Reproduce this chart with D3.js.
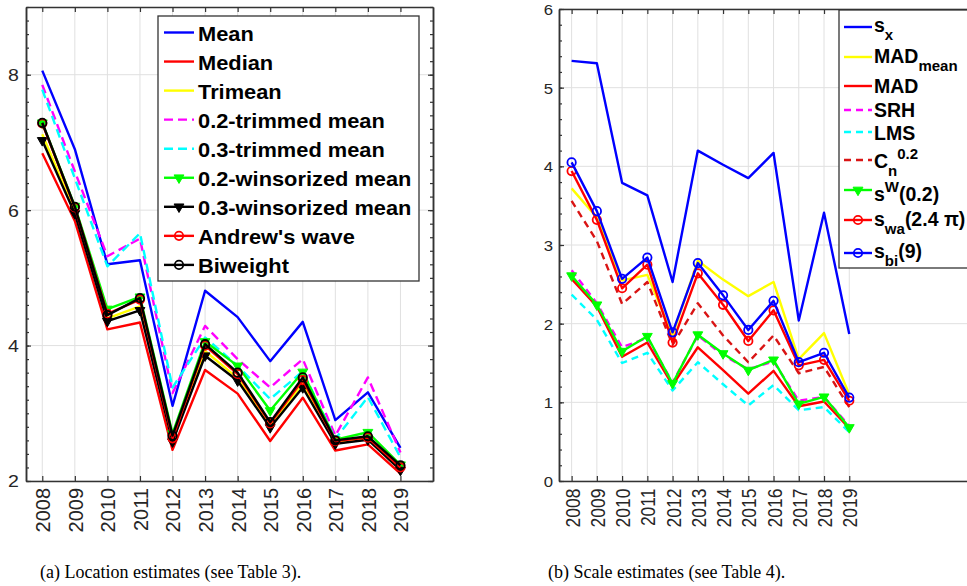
<!DOCTYPE html>
<html>
<head>
<meta charset="utf-8">
<script src="https://cdn.jsdelivr.net/npm/d3@7"></script>
<style>
  body { margin: 0; background: #fff; }
  svg { display: block; }
</style>
</head>
<body>
<div id="fig"></div>
<script>
// x axis: years
const years = [2008, 2009, 2010, 2011, 2012, 2013, 2014, 2015, 2016, 2017, 2018, 2019];

// (a) location estimates
const locLabels = ["Mean", "Median", "Trimean", "0.2-trimmed mean", "0.3-trimmed mean",
                   "0.2-winsorized mean", "0.3-winsorized mean", "Andrew's wave", "Biweight"];
const locMean     = [8.06, 6.90, 5.20, 5.26, 3.11, 4.81, 4.42, 3.77, 4.35, 2.90, 3.31, 2.49];
const locMedian   = [6.84, 5.84, 4.24, 4.34, 2.46, 3.64, 3.29, 2.59, 3.23, 2.45, 2.54, 2.11];
const locTrimean  = [7.12, 5.98, 4.40, 4.58, 2.60, 3.92, 3.52, 2.82, 3.44, 2.56, 2.62, 2.18];
const locTrim02   = [7.85, 6.57, 5.32, 5.58, 3.30, 4.29, 3.80, 3.38, 3.80, 2.67, 3.53, 2.42];
const locTrim03   = [7.78, 6.47, 5.17, 5.66, 3.38, 4.12, 3.70, 3.21, 3.62, 2.62, 3.24, 2.35];
const locWins02   = [7.29, 6.06, 4.54, 4.72, 2.70, 4.06, 3.70, 3.04, 3.61, 2.61, 2.72, 2.24];
const locWins03   = [7.03, 5.95, 4.36, 4.52, 2.58, 3.85, 3.48, 2.79, 3.38, 2.55, 2.61, 2.16];
const locAndrews  = [7.28, 6.04, 4.47, 4.68, 2.63, 4.00, 3.58, 2.85, 3.49, 2.59, 2.64, 2.20];
const locBiweight = [7.29, 6.05, 4.45, 4.70, 2.67, 4.02, 3.60, 2.87, 3.53, 2.60, 2.66, 2.23];
const locTicks = [2, 4, 6, 8];

// (b) scale estimates
const scaleSx     = [5.34, 5.31, 3.79, 3.63, 2.53, 4.20, 4.02, 3.85, 4.17, 2.04, 3.41, 1.87];
const scaleMADm   = [3.72, 3.35, 2.55, 2.62, 1.85, 2.80, 2.56, 2.35, 2.53, 1.55, 1.88, 1.10];
const scaleMAD    = [2.57, 2.22, 1.58, 1.76, 1.22, 1.70, 1.41, 1.11, 1.40, 0.95, 1.01, 0.67];
const scaleSRH    = [2.68, 2.26, 1.70, 1.82, 1.25, 1.85, 1.60, 1.42, 1.52, 1.02, 1.07, 0.70];
const scaleLMS    = [2.37, 2.05, 1.50, 1.63, 1.15, 1.51, 1.23, 0.96, 1.22, 0.90, 0.94, 0.62];
const scaleCn     = [3.56, 3.05, 2.25, 2.53, 1.73, 2.26, 1.85, 1.51, 1.85, 1.37, 1.45, 0.94];
const scaleSW     = [2.61, 2.24, 1.65, 1.84, 1.24, 1.86, 1.62, 1.41, 1.54, 0.98, 1.07, 0.68];
const scaleSwa    = [3.94, 3.32, 2.45, 2.75, 1.76, 2.64, 2.24, 1.78, 2.17, 1.47, 1.54, 1.02];
const scaleSbi    = [4.05, 3.43, 2.57, 2.84, 1.89, 2.77, 2.36, 1.92, 2.29, 1.51, 1.63, 1.06];
const scaleTicks = [0, 1, 2, 3, 4, 5, 6];
// legend labels with sub/superscripts: [text, "sub"|"sup"|null]
const scaleLabels = [
  [["s"], ["x", "sub"]],
  [["MAD"], ["mean", "sub"]],
  [["MAD"]],
  [["SRH"]],
  [["LMS"]],
  [["C"], ["n", "sub"], ["0.2", "sup"]],
  [["s"], ["W", "sup"], ["(0.2)"]],
  [["s"], ["wa", "sub"], ["(2.4 \u03c0)"]],
  [["s"], ["bi", "sub"], ["(9)"]]
];

const W = 967, H = 586;
const AX = "#333333";

const svg = d3.select("#fig").append("svg")
  .attr("width", W).attr("height", H)
  .style("font-family", '"Liberation Sans", Arial, sans-serif');

function marker(sel, type, color, cx, cy) {
  if (type === "o") {
    sel.append("circle").attr("cx", cx).attr("cy", cy).attr("r", 4.2)
      .attr("fill", "none").attr("stroke", color).attr("stroke-width", 1.8);
  } else if (type === "v") {
    sel.append("path").attr("d", d3.symbol(d3.symbolTriangle, 42)())
      .attr("transform", `translate(${cx},${cy}) rotate(180)`)
      .attr("fill", color).attr("stroke", color).attr("stroke-width", 1);
  }
}

function drawPanel(o) {
  const x = d3.scaleLinear().domain(o.xDomain).range([o.left, o.right]);
  const y = d3.scaleLinear().domain(o.yDomain).range([o.bottom, o.top]);
  const g = svg.append("g");

  // white plot background
  g.append("rect").attr("x", o.left).attr("y", o.top)
    .attr("width", o.right - o.left).attr("height", o.bottom - o.top).attr("fill", "#fff");

  // grid
  g.append("g").selectAll("line").data(years).join("line")
    .attr("x1", d => x(d)).attr("x2", d => x(d))
    .attr("y1", o.top).attr("y2", o.bottom)
    .attr("stroke", "#e0e0e0").attr("stroke-width", 1);
  g.append("g").selectAll("line").data(o.yTicks).join("line")
    .attr("x1", o.left).attr("x2", o.right)
    .attr("y1", d => y(d)).attr("y2", d => y(d))
    .attr("stroke", "#e0e0e0").attr("stroke-width", 1);

  // series
  const line = d3.line().x((d, j) => x(years[j])).y(d => y(d));
  o.series.forEach((vals, i) => {
    const st = o.styles[i];
    g.append("path").datum(vals).attr("d", line)
      .attr("fill", "none").attr("stroke", st.color).attr("stroke-width", st.w || 2.4)
      .attr("stroke-dasharray", st.dash || null)
      .attr("stroke-linejoin", "round");
    if (st.marker) {
      const mg = g.append("g");
      vals.forEach((v, j) => marker(mg, st.marker, st.color, x(years[j]), y(v)));
    }
  });

  // axes
  const minor = d3.range(o.yDomain[0], o.yDomain[1] + 0.001, 0.2);
  const styleAxis = a => {
    a.select(".domain").attr("stroke", AX).attr("stroke-width", 1.5);
    a.selectAll(".tick line").attr("stroke", AX).attr("stroke-width", 1.2);
  };
  const bottom = g.append("g").attr("transform", `translate(0,${o.bottom})`)
    .call(d3.axisBottom(x).tickValues(years).tickFormat(d3.format("d")).tickSize(-5).tickSizeOuter(0))
    .call(styleAxis);
  bottom.selectAll("text")
    .attr("x", 0).attr("y", 0).attr("dy", "0.36em")
    .attr("transform", `translate(0,${o.xPad}) rotate(-90) scale(1,${o.xLabelStretch})`)
    .style("text-anchor", "end")
    .attr("fill", "#262626").style("font-size", o.xFont + "px");

  g.append("g").attr("transform", `translate(0,${o.top})`)
    .call(d3.axisTop(x).tickValues(years).tickFormat("").tickSize(-5).tickSizeOuter(0))
    .call(styleAxis);

  const left = g.append("g").attr("transform", `translate(${o.left},0)`)
    .call(d3.axisLeft(y).tickValues(o.yTicks).tickFormat(d3.format("d")).tickSize(-5).tickSizeOuter(0))
    .call(styleAxis);
  left.selectAll("text")
    .attr("x", 0).attr("dy", "0.36em")
    .attr("transform", `translate(${-o.yPad},0) scale(${o.yLabelStretch},1)`)
    .attr("fill", "#262626").style("font-size", o.yFont + "px");
  g.append("g").attr("transform", `translate(${o.left},0)`)
    .call(d3.axisLeft(y).tickValues(minor).tickFormat("").tickSize(-3).tickSizeOuter(0))
    .call(styleAxis);

  g.append("g").attr("transform", `translate(${o.right},0)`)
    .call(d3.axisRight(y).tickValues(o.yTicks).tickFormat("").tickSize(-5).tickSizeOuter(0))
    .call(styleAxis);
  g.append("g").attr("transform", `translate(${o.right},0)`)
    .call(d3.axisRight(y).tickValues(minor).tickFormat("").tickSize(-3).tickSizeOuter(0))
    .call(styleAxis);

  // legend
  const L = o.legend;
  const lg = g.append("g");
  lg.append("rect").attr("x", L.x0).attr("y", L.y0)
    .attr("width", L.x1 - L.x0).attr("height", L.y1 - L.y0)
    .attr("fill", "#fff").attr("stroke", AX).attr("stroke-width", 1.3);
  o.labels.forEach((lab, i) => {
    const st = o.styles[i];
    const ly = L.lineY(i);
    lg.append("line").attr("x1", L.sx0).attr("x2", L.sx1).attr("y1", ly).attr("y2", ly)
      .attr("stroke", st.color).attr("stroke-width", st.w || 2.4)
      .attr("stroke-dasharray", st.dash || null);
    if (st.marker) marker(lg, st.marker, st.color, (L.sx0 + L.sx1) / 2, ly);
    const t = lg.append("text")
      .attr("transform", `translate(${L.tx},${L.baseY(i)}) scale(${L.stretch},1)`)
      .style("font-size", L.font + "px").style("font-weight", "bold").attr("fill", "#000");
    const parts = Array.isArray(lab) ? lab : [[lab]];
    let shift = 0;
    parts.forEach(([txt, kind]) => {
      const target = kind === "sub" ? L.subDy : kind === "sup" ? -L.supDy : 0;
      t.append("tspan").attr("dy", target - shift)
        .style("font-size", (kind ? L.subFont : L.font) + "px").text(txt);
      shift = target;
    });
  });
}

// panel (a)
drawPanel({
  left: 26, right: 433, top: 7, bottom: 481,
  xDomain: [2007.5, 2020], yDomain: [2, 9], yTicks: locTicks,
  xPad: 7, xFont: 20, xLabelStretch: 1.03,
  yPad: 7, yFont: 16.3, yLabelStretch: 1.2,
  series: [locMean, locMedian, locTrimean, locTrim02, locTrim03, locWins02, locWins03, locAndrews, locBiweight],
  styles: [
    { color: "#0000ff" },
    { color: "#ff0000" },
    { color: "#ffff00" },
    { color: "#ff00ff", dash: "9,5" },
    { color: "#00ffff", dash: "9,5" },
    { color: "#00ff00", marker: "v" },
    { color: "#000000", marker: "v" },
    { color: "#ff0000", marker: "o" },
    { color: "#000000", marker: "o" }
  ],
  labels: locLabels,
  legend: {
    x0: 158, x1: 419, y0: 16, y1: 281, sx0: 164, sx1: 194, tx: 198,
    lineY: i => 32.5 + i * 29.05, baseY: i => 40.5 + i * 29.05,
    font: 19.5, subFont: 14, subDy: 8, supDy: 9, stretch: 1.12
  }
});

// panel (b)
const rLineY = [27, 57, 86, 110, 132, 160, 190, 220, 253];
const rBaseY = [32, 63, 93, 117, 140, 168, 201, 226, 258];
drawPanel({
  left: 559, right: 990, top: 9, bottom: 481,
  xDomain: [2007.5, 2007.5 + (990 - 559) / 25.24], yDomain: [0, 6], yTicks: scaleTicks,
  xPad: 7.5, xFont: 17.5, xLabelStretch: 1.2,
  yPad: 6, yFont: 15.5, yLabelStretch: 1.08,
  series: [scaleSx, scaleMADm, scaleMAD, scaleSRH, scaleLMS, scaleCn, scaleSW, scaleSwa, scaleSbi],
  styles: [
    { color: "#0000ff" },
    { color: "#ffff00" },
    { color: "#ff0000" },
    { color: "#ff00ff", dash: "7,5" },
    { color: "#00ffff", dash: "7,5" },
    { color: "#d91414", dash: "7,5" },
    { color: "#00ff00", marker: "v" },
    { color: "#ff0000", marker: "o" },
    { color: "#0000ff", marker: "o" }
  ],
  labels: scaleLabels,
  legend: {
    x0: 839, x1: 1000, y0: 10, y1: 268, sx0: 844, sx1: 872, tx: 874,
    lineY: i => rLineY[i], baseY: i => rBaseY[i],
    font: 19.5, subFont: 15, subDy: 8, supDy: 9, stretch: 1.0
  }
});

// captions
svg.append("g").style("font-family", '"Liberation Serif", "Times New Roman", serif')
  .selectAll("text")
  .data([["(a) Location estimates (see Table 3).", 40], ["(b) Scale estimates (see Table 4).", 548]])
  .join("text")
  .attr("x", d => d[1]).attr("y", 578)
  .style("font-size", "18px").attr("fill", "#000")
  .text(d => d[0]);
</script>
</body>
</html>
